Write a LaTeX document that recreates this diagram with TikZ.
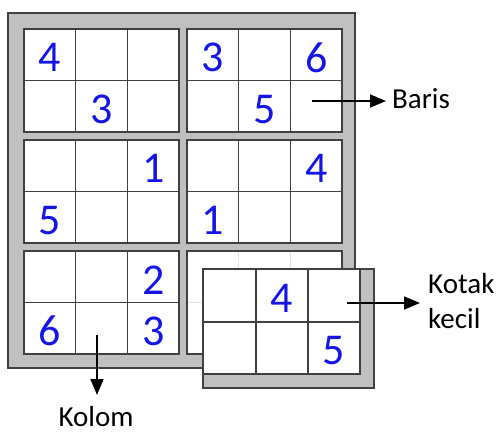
\documentclass[tikz,border=0pt]{standalone}
\usepackage{fontspec}
\setmainfont{Carlito}
\usetikzlibrary{arrows.meta}
\definecolor{framegray}{HTML}{C0C0C0}
\definecolor{linegray}{HTML}{404040}
\definecolor{digitblue}{HTML}{1414E6}
\definecolor{fadegray}{HTML}{E2E2EA}
\begin{document}
\begin{tikzpicture}[x=1pt,y=-1pt,
  frame/.style={fill=framegray, draw=linegray, line width=1.5pt},
  blockbox/.style={fill=white, draw=linegray, line width=1.3pt},
  gridline/.style={draw=linegray, line width=1.2pt},
  fadeline/.style={draw=fadegray, line width=1pt},
  digit/.style={text=digitblue, font=\fontsize{44}{44}\selectfont, inner sep=0pt},
  lbl/.style={font=\fontsize{29}{35}\selectfont, inner sep=0pt},
  arr/.style={-{Triangle[length=16pt,width=13pt]}, line width=1.6pt}]
\useasboundingbox (0,0) rectangle (501,436);
% outer frame
\draw[frame] (8,13) rectangle (355,368);
% faded block (bottom right, behind small box)
\draw[blockbox] (187,251) rectangle ++(155,103);
\draw[fadeline] (238.67,252) -- (238.67,353) (290.33,252) -- (290.33,353)
  (188,302.5) -- (341,302.5);
% five visible blocks
\foreach \bx/\by in {24/29,187/29,24/140,187/140,24/251} {
  \draw[blockbox] (\bx,\by) rectangle ++(155,103);
  \draw[gridline] (\bx+51.67,\by) -- ++(0,103)
                  (\bx+103.33,\by) -- ++(0,103)
                  (\bx,\by+51.5) -- ++(155,0);
}
% digits
\node[digit] (a1) at (49.8,57.8) {4};
\node[digit] (a2) at (101.5,109.3) {3};
\node[digit] (b1) at (212.8,57.8) {3};
\node[digit] (b2) at (316.2,57.8) {6};
\node[digit] (b3) at (264.5,109.3) {5};
\node[digit] (c1) at (153.2,168.8) {1};
\node[digit] (c2) at (49.8,220.3) {5};
\node[digit] (d1) at (316.2,168.8) {4};
\node[digit] (d2) at (212.8,220.3) {1};
\node[digit] (e1) at (153.2,279.8) {2};
\node[digit] (e2) at (49.8,331.3) {6};
\node[digit] (e3) at (153.2,331.3) {3};
% small box (Kotak kecil)
\draw[frame] (203,269) rectangle (374,388);
\draw[blockbox] (203,269) rectangle (360,374);
\draw[gridline] (256,269) -- (256,374) (308,269) -- (308,374) (203,322) -- (360,322);
\node[digit] (s1) at (282,298.5) {4};
\node[digit] (s2) at (334,351) {5};
% labels and arrows
\node[lbl, anchor=base west] (baris) at (392,108) {Baris};
\coordinate (bs) at (312,101);
\coordinate (be) at (386,101);
\draw[arr] (bs) -- (be);
\node[lbl, anchor=base west] (kotak) at (428,293) {Kotak};
\node[lbl, anchor=base west] (kecil) at (428,328) {kecil};
\coordinate (ks) at (347,303);
\coordinate (ke) at (420,303);
\draw[arr] (ks) -- (ke);
\node[lbl, anchor=base] (kolom) at (96,426) {Kolom};
\coordinate (cs) at (97,335);
\coordinate (ce) at (97,395);
\draw[arr] (cs) -- (ce);
\end{tikzpicture}
\end{document}
